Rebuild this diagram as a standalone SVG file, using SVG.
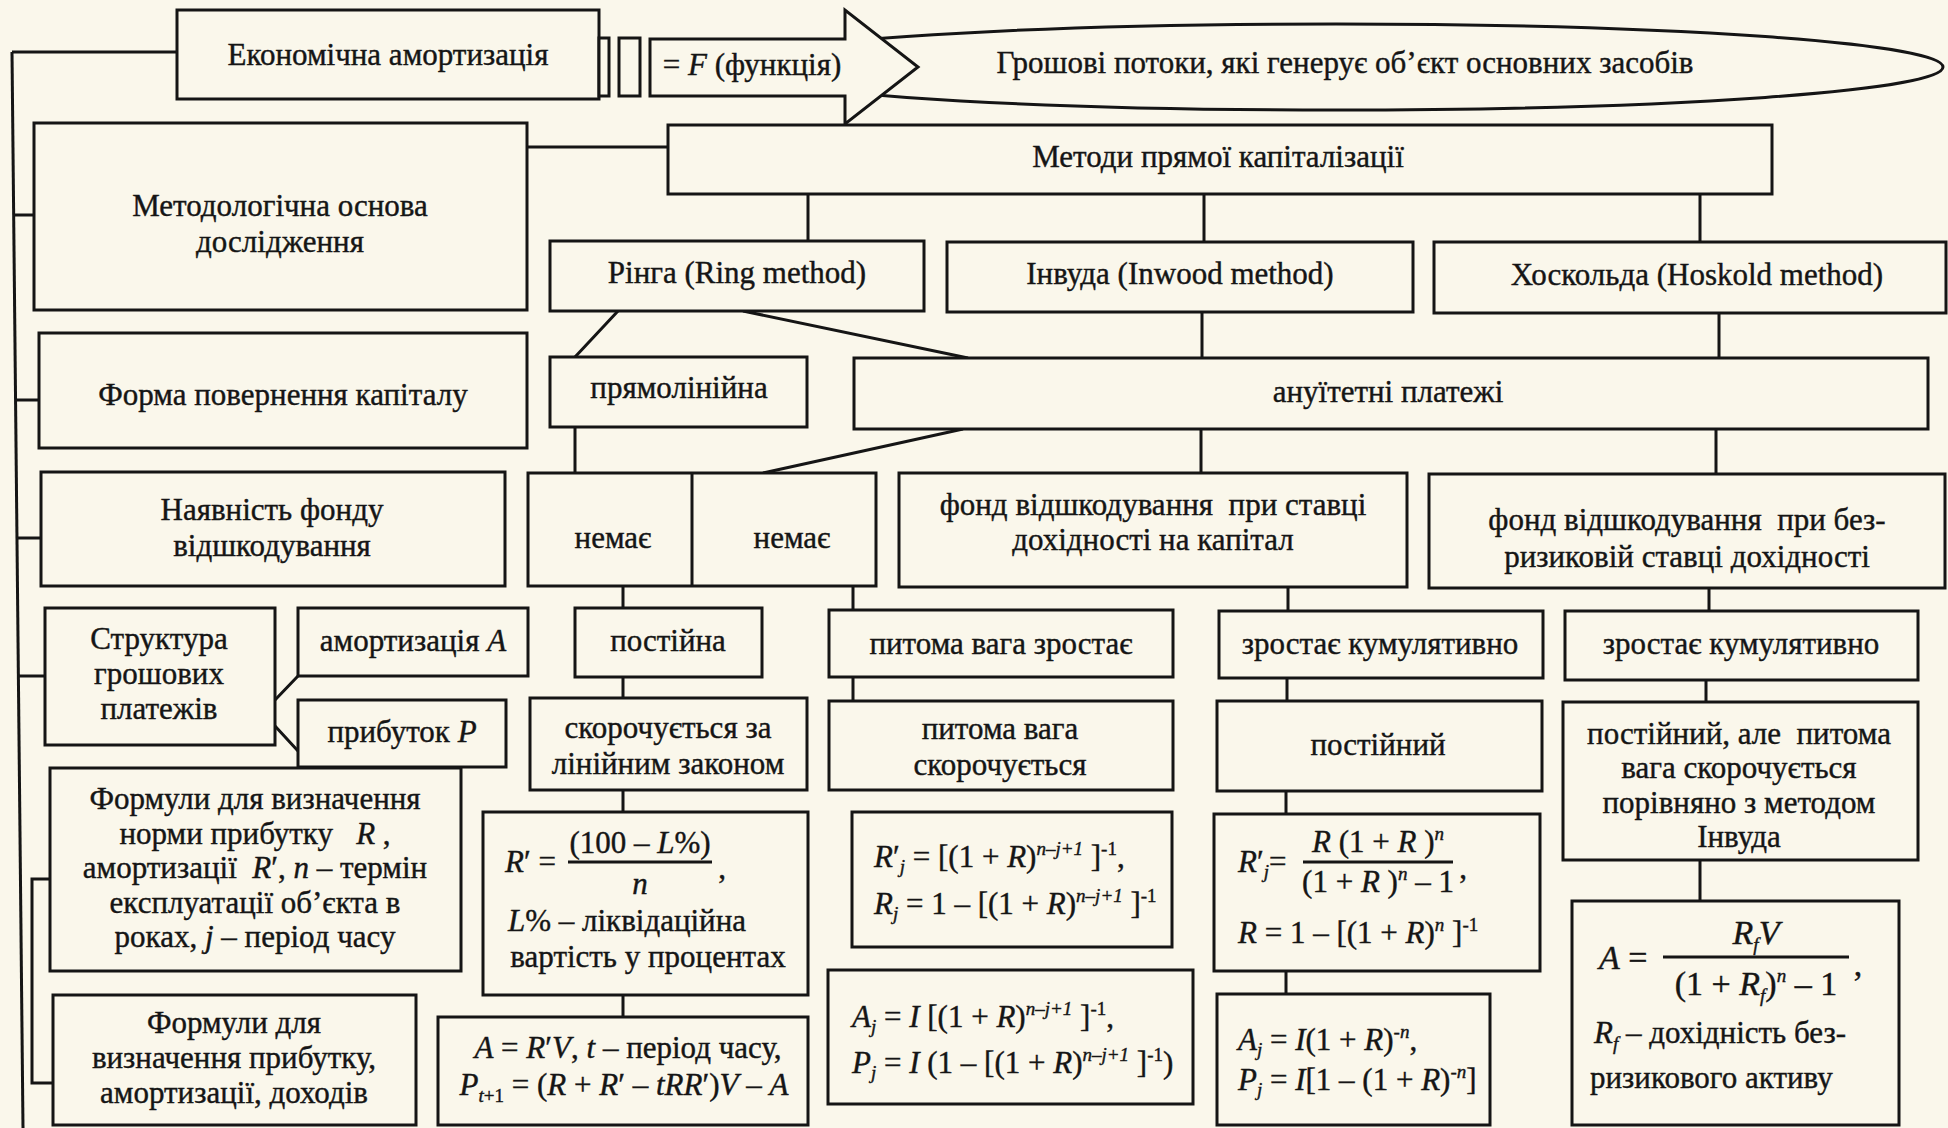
<svg xmlns="http://www.w3.org/2000/svg" width="1948" height="1128" viewBox="0 0 1948 1128">
<style>
.bx{fill:#faf7eb;stroke:#151515;stroke-width:3}
.ln{fill:none;stroke:#151515;stroke-width:3}
.t{font-family:"Liberation Serif","DejaVu Serif",serif;font-size:31px;fill:#151515;stroke:#151515;stroke-width:0.4;text-anchor:middle;white-space:pre}
.l{text-anchor:start}
.i{font-style:italic}
.s{font-size:19px}
</style>
<rect width="1948" height="1128" fill="#faf7eb"/>
<g id="connectors" class="ln">
<path d="M12 52 L23 1128"/>
<path d="M12 52 H177"/>
<path d="M14 215 H34"/>
<path d="M16 400 H39"/>
<path d="M17 538 H41"/>
<path d="M18 676 H45"/>
<path d="M50 879 H32 V1083 H53"/>
<path d="M527 147 H668"/>
<path d="M808 194 V241 M1204 194 V242 M1700 194 V242"/>
<path d="M618 311 L575 357 M743 311 L968 358"/>
<path d="M1202 312 V358 M1719 313 V358"/>
<path d="M575 427 V473 M963 429 L763 473"/>
<path d="M1201 429 V473 M1716 429 V474"/>
<path d="M623 586 V608 M623 677 V698 M623 790 V812 M623 995 V1017"/>
<path d="M853 586 V610 M853 677 V701"/>
<path d="M1288 587 V611 M1287 678 V701 M1286 791 V814 M1286 971 V994"/>
<path d="M1709 588 V611 M1706 680 V702 M1700 860 V901"/>
<path d="M275 700 L298 676 M275 726 L298 751"/>
</g>
<g id="cashflows">
<ellipse class="bx" cx="1336" cy="67" rx="607" ry="43"/>
<text class="t" x="1345" y="73">Грошові потоки, які генерує об’єкт основних засобів</text>
</g>
<g id="econ">
<rect class="bx" x="177" y="10" width="422" height="89"/>
<text class="t" x="388" y="65">Економічна амортизація</text>
</g>
<g id="equals">
<rect class="bx" x="599" y="38" width="10" height="58"/>
<rect class="bx" x="619" y="38" width="21" height="58"/>
<polygon class="bx" points="650,39 845,39 845,10 918,67 845,124 845,96 650,96"/>
<text class="t" x="752" y="75">= <tspan class="i">F</tspan> (функція)</text>
</g>
<g id="metody">
<rect class="bx" x="668" y="125" width="1104" height="69"/>
<text class="t" x="1218" y="167">Методи прямої капіталізації</text>
</g>
<g id="metodol">
<rect class="bx" x="34" y="123" width="493" height="187"/>
<text class="t" x="280" y="216">Методологічна основа</text>
<text class="t" x="280" y="252">дослідження</text>
</g>
<g id="ring">
<rect class="bx" x="550" y="241" width="374" height="70"/>
<text class="t" x="737" y="283">Рінга (Ring method)</text>
</g>
<g id="inwood">
<rect class="bx" x="947" y="242" width="466" height="70"/>
<text class="t" x="1180" y="284">Інвуда (Inwood method)</text>
</g>
<g id="hoskold">
<rect class="bx" x="1434" y="242" width="512" height="71"/>
<text class="t" x="1697" y="285">Хоскольда (Hoskold method)</text>
</g>
<g id="forma">
<rect class="bx" x="39" y="333" width="488" height="115"/>
<text class="t" x="283" y="405">Форма повернення капіталу</text>
</g>
<g id="pryam">
<rect class="bx" x="550" y="357" width="257" height="70"/>
<text class="t" x="679" y="398">прямолінійна</text>
</g>
<g id="anuit">
<rect class="bx" x="854" y="358" width="1074" height="71"/>
<text class="t" x="1388" y="402">ануїтетні платежі</text>
</g>
<g id="nayav">
<rect class="bx" x="41" y="472" width="464" height="114"/>
<text class="t" x="272" y="520">Наявність фонду</text>
<text class="t" x="272" y="556">відшкодування</text>
</g>
<g id="nemaie">
<rect class="bx" x="528" y="473" width="348" height="113"/>
<path class="ln" d="M692 473 V586"/>
<text class="t" x="613" y="548">немає</text>
<text class="t" x="792" y="548">немає</text>
</g>
<g id="fond1">
<rect class="bx" x="899" y="473" width="508" height="114"/>
<text class="t" x="1153" y="515">фонд відшкодування  при ставці</text>
<text class="t" x="1153" y="550">дохідності на капітал</text>
</g>
<g id="fond2">
<rect class="bx" x="1429" y="474" width="516" height="114"/>
<text class="t" x="1687" y="530">фонд відшкодування  при без-</text>
<text class="t" x="1687" y="567">ризиковій ставці дохідності</text>
</g>
<g id="struktura">
<rect class="bx" x="45" y="608" width="230" height="137"/>
<text class="t" x="159" y="649">Структура</text>
<text class="t" x="159" y="684">грошових</text>
<text class="t" x="159" y="719">платежів</text>
</g>
<g id="amort">
<rect class="bx" x="298" y="608" width="230" height="68"/>
<text class="t" x="413" y="651">амортизація <tspan class="i">A</tspan></text>
</g>
<g id="prybut">
<rect class="bx" x="298" y="700" width="208" height="67"/>
<text class="t" x="402" y="742">прибуток <tspan class="i">P</tspan></text>
</g>
<g id="formuly1">
<rect class="bx" x="50" y="768" width="411" height="203"/>
<text class="t" x="255" y="809">Формули для визначення</text>
<text class="t" x="255" y="844">норми прибутку   <tspan class="i">R</tspan> ,</text>
<text class="t" x="255" y="878">амортизації  <tspan class="i">R</tspan>′, <tspan class="i">n</tspan> – термін</text>
<text class="t" x="255" y="913">експлуатації об’єкта в</text>
<text class="t" x="255" y="947">роках, <tspan class="i">j</tspan> – період часу</text>
</g>
<g id="formuly2">
<rect class="bx" x="53" y="995" width="363" height="130"/>
<text class="t" x="234" y="1033">Формули для</text>
<text class="t" x="234" y="1068">визначення прибутку,</text>
<text class="t" x="234" y="1103">амортизації, доходів</text>
</g>
<g id="postiina">
<rect class="bx" x="575" y="608" width="187" height="69"/>
<text class="t" x="668" y="651">постійна</text>
</g>
<g id="skoroch">
<rect class="bx" x="530" y="698" width="277" height="92"/>
<text class="t" x="668" y="738">скорочується за</text>
<text class="t" x="668" y="774">лінійним законом</text>
</g>
<g id="rprime">
<rect class="bx" x="483" y="812" width="325" height="183"/>
<text class="t l" x="505" y="872"><tspan class="i">R</tspan>′ =</text>
<text class="t" x="640" y="853">(100 – <tspan class="i">L</tspan>%)</text>
<path class="ln" d="M568 862 H712"/>
<text class="t i" x="640" y="894">n</text>
<text class="t" x="722" y="878">,</text>
<text class="t" x="627" y="931"><tspan class="i">L</tspan>% – ліквідаційна</text>
<text class="t" x="648" y="967">вартість у процентах</text>
</g>
<g id="arv">
<rect class="bx" x="438" y="1017" width="370" height="108"/>
<text class="t" x="628" y="1058"><tspan class="i">A</tspan> = <tspan class="i">R</tspan>′<tspan class="i">V</tspan>, <tspan class="i">t</tspan> – період часу,</text>
<text class="t" x="624" y="1095"><tspan class="i">P</tspan><tspan class="s i" dy="7">t</tspan><tspan class="s">+1</tspan><tspan dy="-7"> = (</tspan><tspan class="i">R</tspan> + <tspan class="i">R</tspan>′ – <tspan class="i">tRR</tspan>′)<tspan class="i">V</tspan> – <tspan class="i">A</tspan></text>
</g>
<g id="pytoma1">
<rect class="bx" x="829" y="610" width="344" height="67"/>
<text class="t" x="1001" y="654">питома вага зростає</text>
</g>
<g id="pytoma2">
<rect class="bx" x="829" y="701" width="344" height="89"/>
<text class="t" x="1000" y="739">питома вага</text>
<text class="t" x="1000" y="775">скорочується</text>
</g>
<g id="inwf1">
<rect class="bx" x="852" y="812" width="320" height="135"/>
<text class="t l" x="874" y="867"><tspan class="i">R</tspan>′<tspan class="s i" dy="6">j</tspan><tspan dy="-6"> = [(1 + </tspan><tspan class="i">R</tspan>)<tspan class="s i" dy="-12">n–j+1</tspan><tspan dy="12"> ]</tspan><tspan class="s" dy="-12">-1</tspan><tspan dy="12">,</tspan></text>
<text class="t l" x="874" y="914"><tspan class="i">R</tspan><tspan class="s i" dy="6">j</tspan><tspan dy="-6"> = 1 – [(1 + </tspan><tspan class="i">R</tspan>)<tspan class="s i" dy="-12">n–j+1</tspan><tspan dy="12"> ]</tspan><tspan class="s" dy="-12">-1</tspan></text>
</g>
<g id="inwf2">
<rect class="bx" x="828" y="970" width="365" height="134"/>
<text class="t l" x="852" y="1027"><tspan class="i">A</tspan><tspan class="s i" dy="6">j</tspan><tspan dy="-6"> = </tspan><tspan class="i">I</tspan> [(1 + <tspan class="i">R</tspan>)<tspan class="s i" dy="-12">n–j+1</tspan><tspan dy="12"> ]</tspan><tspan class="s" dy="-12">-1</tspan><tspan dy="12">,</tspan></text>
<text class="t l" x="852" y="1073"><tspan class="i">P</tspan><tspan class="s i" dy="6">j</tspan><tspan dy="-6"> = </tspan><tspan class="i">I</tspan> (1 – [(1 + <tspan class="i">R</tspan>)<tspan class="s i" dy="-12">n–j+1</tspan><tspan dy="12"> ]</tspan><tspan class="s" dy="-12">-1</tspan><tspan dy="12">)</tspan></text>
</g>
<g id="zrost1">
<rect class="bx" x="1219" y="611" width="324" height="67"/>
<text class="t" x="1380" y="654">зростає кумулятивно</text>
</g>
<g id="postiinyi">
<rect class="bx" x="1217" y="701" width="325" height="90"/>
<text class="t" x="1378" y="755">постійний</text>
</g>
<g id="annf1">
<rect class="bx" x="1214" y="814" width="326" height="157"/>
<text class="t l" x="1238" y="872"><tspan class="i">R</tspan>′<tspan class="s i" dy="6">j</tspan><tspan dy="-6">=</tspan></text>
<text class="t" x="1378" y="852"><tspan class="i">R</tspan> (1 + <tspan class="i">R</tspan> )<tspan class="s i" dy="-12">n</tspan></text>
<path class="ln" d="M1303 862 H1453"/>
<text class="t" x="1378" y="892">(1 + <tspan class="i">R</tspan> )<tspan class="s i" dy="-12">n</tspan><tspan dy="12"> – 1</tspan></text>
<text class="t" x="1463" y="878">,</text>
<text class="t l" x="1238" y="943"><tspan class="i">R</tspan> = 1 – [(1 + <tspan class="i">R</tspan>)<tspan class="s i" dy="-12">n</tspan><tspan dy="12"> ]</tspan><tspan class="s" dy="-12">-1</tspan></text>
</g>
<g id="annf2">
<rect class="bx" x="1217" y="994" width="273" height="131"/>
<text class="t l" x="1238" y="1050"><tspan class="i">A</tspan><tspan class="s i" dy="6">j</tspan><tspan dy="-6"> = </tspan><tspan class="i">I</tspan>(1 + <tspan class="i">R</tspan>)<tspan class="s i" dy="-12">-n</tspan><tspan dy="12">,</tspan></text>
<text class="t l" x="1238" y="1090"><tspan class="i">P</tspan><tspan class="s i" dy="6">j</tspan><tspan dy="-6"> = </tspan><tspan class="i">I</tspan>[1 – (1 + <tspan class="i">R</tspan>)<tspan class="s i" dy="-12">-n</tspan><tspan dy="12">]</tspan></text>
</g>
<g id="zrost2">
<rect class="bx" x="1565" y="611" width="353" height="69"/>
<text class="t" x="1741" y="654">зростає кумулятивно</text>
</g>
<g id="hosktxt">
<rect class="bx" x="1563" y="702" width="355" height="158"/>
<text class="t" x="1739" y="744">постійний, але  питома</text>
<text class="t" x="1739" y="778">вага скорочується</text>
<text class="t" x="1739" y="813">порівняно з методом</text>
<text class="t" x="1739" y="847">Інвуда</text>
</g>
<g id="hoskf">
<rect class="bx" x="1572" y="901" width="327" height="224"/>
<text class="t l" x="1599" y="969" style="font-size:34px"><tspan class="i">A</tspan> =</text>
<text class="t" x="1756" y="944" style="font-size:34px"><tspan class="i">R</tspan><tspan class="s i" dy="7">f</tspan><tspan class="i" dy="-7">V</tspan></text>
<path class="ln" d="M1663 957 H1849"/>
<text class="t" x="1756" y="995" style="font-size:34px">(1 + <tspan class="i">R</tspan><tspan class="s i" dy="7">f</tspan><tspan dy="-7">)</tspan><tspan class="s i" dy="-13">n</tspan><tspan dy="13"> – 1</tspan></text>
<text class="t" x="1858" y="976" style="font-size:34px">,</text>
<text class="t l" x="1594" y="1043"><tspan class="i">R</tspan><tspan class="s i" dy="7">f</tspan><tspan dy="-7"> – дохідність без-</tspan></text>
<text class="t l" x="1590" y="1088">ризикового активу</text>
</g>
</svg>
